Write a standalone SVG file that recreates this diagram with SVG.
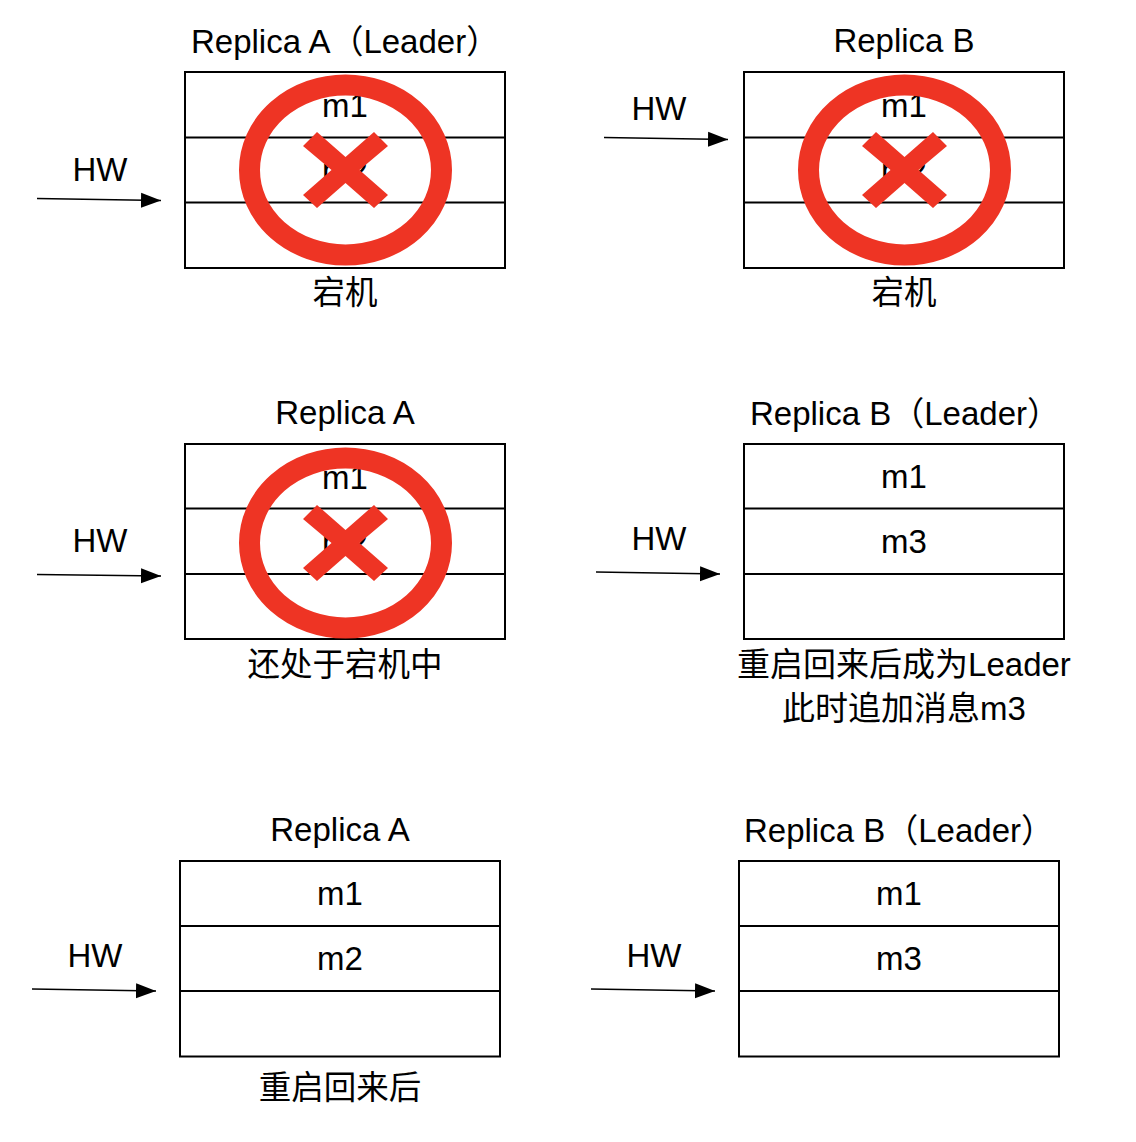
<svg xmlns="http://www.w3.org/2000/svg" width="1136" height="1142" viewBox="0 0 1136 1142">
<style>
text{font-family:"Liberation Sans","Noto Sans CJK SC",sans-serif;font-size:33px;fill:#000;text-anchor:middle}
text.start{text-anchor:start}
text.note{font-size:32.500px}
.box{fill:#fff;stroke:#000;stroke-width:2}
.div{stroke:#000;stroke-width:2;fill:none}
.conn{stroke:#000;stroke-width:1.7;fill:none;marker-end:url(#arrow)}
.ring{fill:none;stroke:#ee3424;stroke-width:21}
.cross{fill:#ee3424}
</style>
<defs>
<marker id="arrow" markerUnits="userSpaceOnUse" markerWidth="22" markerHeight="16" refX="20" refY="8" orient="auto"><path d="M0 0.5L20 8L0 15.5Z" fill="#000"/></marker>
<g id="mark"><ellipse class="ring" cx="0.500" cy="0" rx="96" ry="85"/><path class="cross" d="M-28 -38L0.500 -13L29 -38L43 -24L14.500 0L43 25L29 38L0.500 13L-28 38L-42 25L-13.500 0L-42 -24Z"/></g>
</defs>
<g id="connectors">
<path class="conn" d="M37 198.500L161 200.500"/>
<path class="conn" d="M604 137.500L728 139.500"/>
<path class="conn" d="M37 574.500L161 576"/>
<path class="conn" d="M596 572L720 574"/>
<path class="conn" d="M32 989L156 991"/>
<path class="conn" d="M591 989L715 991"/>
</g>
<g id="replica-a-1">
<text class="start" x="191" y="52.500">Replica A（Leader）</text>
<rect class="box" x="185" y="72" width="320" height="196"/>
<path class="div" d="M185 137.500H505M185 202.500H505"/>
<text x="345" y="117">m1</text><text x="345" y="182">m2</text>
<use href="#mark" x="345" y="170"/>
<text x="100" y="181">HW</text>
<text class="note" x="345" y="304">宕机</text>
</g>
<g id="replica-b-1">
<text x="904" y="52">Replica B</text>
<rect class="box" x="744" y="72" width="320" height="196"/>
<path class="div" d="M744 137.500H1064M744 202.500H1064"/>
<text x="904" y="117">m1</text><text x="904" y="182">m2</text>
<use href="#mark" x="904" y="170"/>
<text x="659" y="120">HW</text>
<text class="note" x="904" y="304">宕机</text>
</g>
<g id="replica-a-2">
<text x="345" y="424">Replica A</text>
<rect class="box" x="185" y="444" width="320" height="195"/>
<path class="div" d="M185 508.500H505M185 574H505"/>
<text x="345" y="489">m1</text><text x="345" y="554">m2</text>
<use href="#mark" x="345" y="543"/>
<text x="100" y="552">HW</text>
<text class="note" x="345" y="676">还处于宕机中</text>
</g>
<g id="replica-b-2">
<text class="start" x="750" y="425">Replica B（Leader）</text>
<rect class="box" x="744" y="444" width="320" height="195"/>
<path class="div" d="M744 508.500H1064M744 574H1064"/>
<text x="904" y="488">m1</text><text x="904" y="553">m3</text>
<text x="659" y="550">HW</text>
<text x="904" y="676">重启回来后成为Leader</text>
<text x="904" y="720">此时追加消息m3</text>
</g>
<g id="replica-a-3">
<text x="340" y="841">Replica A</text>
<rect class="box" x="180" y="861" width="320" height="195.500"/>
<path class="div" d="M180 926H500M180 991H500"/>
<text x="340" y="905">m1</text><text x="340" y="970">m2</text>
<text x="95" y="967">HW</text>
<text class="note" x="340" y="1099">重启回来后</text>
</g>
<g id="replica-b-3">
<text class="start" x="744" y="842">Replica B（Leader）</text>
<rect class="box" x="739" y="861" width="320" height="195.500"/>
<path class="div" d="M739 926H1059M739 991H1059"/>
<text x="899" y="905">m1</text><text x="899" y="970">m3</text>
<text x="654" y="967">HW</text>
</g>
</svg>
